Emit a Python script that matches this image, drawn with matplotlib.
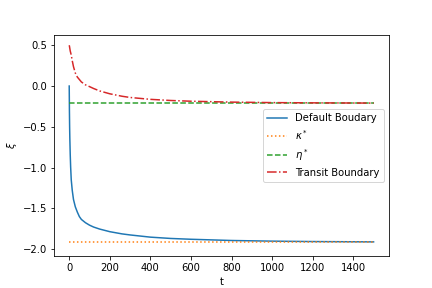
import matplotlib
matplotlib.use("Agg")
import matplotlib.pyplot as plt

t = [0, 1, 2, 3, 5, 7, 10, 15, 21, 30, 40, 50, 60, 80, 100, 120, 150, 200, 260, 300, 400, 500, 600, 800, 1000, 1200, 1500]
default_boundary = [0.0, -0.30, -0.50, -0.64, -0.84, -0.99, -1.15, -1.28, -1.39, -1.48, -1.545, -1.60, -1.635, -1.675,
                    -1.705, -1.728, -1.753, -1.785, -1.812, -1.825, -1.852, -1.868, -1.878, -1.893, -1.901, -1.906, -1.91]
transit_boundary = [0.50, 0.49, 0.475, 0.46, 0.43, 0.41, 0.38, 0.31, 0.238, 0.16, 0.11, 0.08, 0.05, 0.015, -0.007,
                    -0.03, -0.06, -0.095, -0.125, -0.14, -0.163, -0.177, -0.186, -0.197, -0.203, -0.206, -0.209]
kappa_star = -1.91
eta_star = -0.211

fig, ax = plt.subplots(figsize=(6, 4), dpi=72)
ax.plot(t, default_boundary, label='Default Boudary')
ax.plot([t[0], t[-1]], [kappa_star, kappa_star], ':', label=r'$\kappa^*$')
ax.plot([t[0], t[-1]], [eta_star, eta_star], '--', label=r'$\eta^*$')
ax.plot(t, transit_boundary, '-.', label='Transit Boundary')
ax.set_ylim(-2.087, 0.631)
ax.set_xlabel('t')
ax.set_ylabel(r'$\xi$')
ax.legend(loc='center right')
fig.savefig('out.png', dpi=72)
